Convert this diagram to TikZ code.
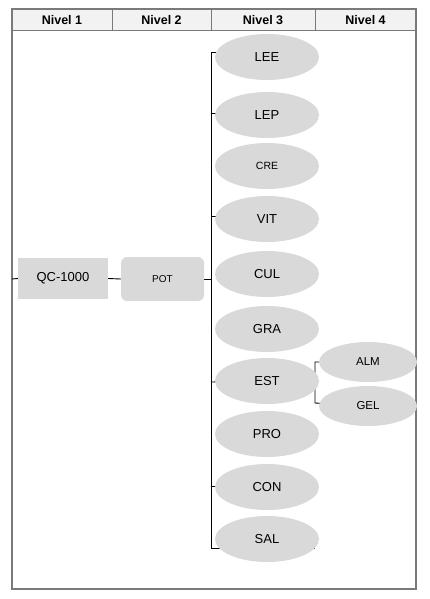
\documentclass[tikz,border=0pt]{standalone}
\usepackage{fontspec}
\setmainfont{Liberation Sans}
\usetikzlibrary{shapes.geometric,backgrounds}
\definecolor{nodegray}{HTML}{D9D9D9}
\definecolor{headgray}{HTML}{F2F2F2}
\definecolor{framegray}{HTML}{7A7A7A}
\tikzset{
  oval/.style={ellipse, fill=nodegray, draw=none, inner sep=0pt, minimum width=104pt, minimum height=46pt, font=\fontsize{13}{13}\selectfont},
  smalloval/.style={ellipse, fill=nodegray, draw=none, inner sep=0pt, minimum width=98pt, minimum height=40pt, font=\fontsize{11.5}{11.5}\selectfont},
  headtext/.style={font=\bfseries\fontsize{12.5}{12.5}\selectfont, inner sep=0pt},
  qcbox/.style={rectangle, fill=nodegray, draw=none, inner sep=0pt, minimum width=90pt, minimum height=41pt, font=\fontsize{13}{13}\selectfont},
  potbox/.style={rectangle, rounded corners=6pt, fill=nodegray, draw=none, inner sep=0pt, minimum width=83pt, minimum height=44pt, font=\fontsize{10}{10}\selectfont},
  conn/.style={draw=black, line width=0.9pt},
}
\begin{document}
\begin{tikzpicture}[x=1pt,y=-1pt]
\useasboundingbox (0,0) rectangle (429,599);
% nodes
\node[headtext] (h1) at (62,20) {Nivel 1};
\node[headtext] (h2) at (161.5,20) {Nivel 2};
\node[headtext] (h3) at (263,20) {Nivel 3};
\node[headtext] (h4) at (365.5,20) {Nivel 4};
\node[qcbox] (qc) at (63,278.5) {QC-1000};
\node[potbox] (pot) at (162.5,279) {POT};
\node[oval] (lee) at (267,57) {LEE};
\node[oval] (lep) at (267,115) {LEP};
\node[oval, font=\fontsize{10.5}{10.5}\selectfont] (cre) at (267,166) {CRE};
\node[oval] (vit) at (267,219) {VIT};
\node[oval] (cul) at (267,274) {CUL};
\node[oval] (gra) at (267,329) {GRA};
\node[oval] (est) at (267,381) {EST};
\node[oval] (pro) at (267,434) {PRO};
\node[oval] (con) at (267,487) {CON};
\node[oval] (sal) at (267,539) {SAL};
\node[smalloval] (alm) at (368,362) {ALM};
\node[smalloval] (gel) at (368,406) {GEL};
% coordinates
\coordinate (btop) at (211,52);
\coordinate (bbot) at (211,548);
\coordinate (bend) at (315,548);
\coordinate (tlee) at (211,52);
\coordinate (tlep) at (211,113);
\coordinate (tvit) at (211,216);
\coordinate (tpot) at (211,279);
\coordinate (test) at (211,382);
\coordinate (tcon) at (211,486);
\coordinate (eb1) at (315,362);
\coordinate (eb2) at (315,403);
\coordinate (fl) at (12,279);
\begin{scope}[on background layer]
  \fill[headgray] (12,9.5) rectangle (416,30.5);
  \draw[framegray, line width=0.8pt] (112,9.5) -- (112,30.5);
  \draw[framegray, line width=0.8pt] (211,9.5) -- (211,30.5);
  \draw[framegray, line width=0.8pt] (315,9.5) -- (315,30.5);
  \draw[framegray, line width=1pt] (12,30.5) -- (416,30.5);
  \draw[framegray, line width=2pt] (12,9.5) rectangle (416,589);
  % main bracket
  \draw[conn] (btop) -- (bbot) -- (bend);
  \draw[conn] (tlee) -- (tlee -| lee.center);
  \draw[conn] (tlep) -- (tlep -| lep.center);
  \draw[conn] (tvit) -- (tvit -| vit.center);
  \draw[conn] (test) -- (est.center);
  \draw[conn] (tcon) -- (tcon -| con.center);
  \draw[conn] (pot.east) -- (tpot);
  \draw[conn] (qc.east) -- (pot.west);
  \draw[conn] (fl) -- (qc.west);
  % EST bracket
  \draw[conn] (alm.center) -- (eb1) -- (eb2) -- (gel.center);
  \draw[conn] (est.center) -- (est.center -| eb1);
\end{scope}
\end{tikzpicture}
\end{document}
